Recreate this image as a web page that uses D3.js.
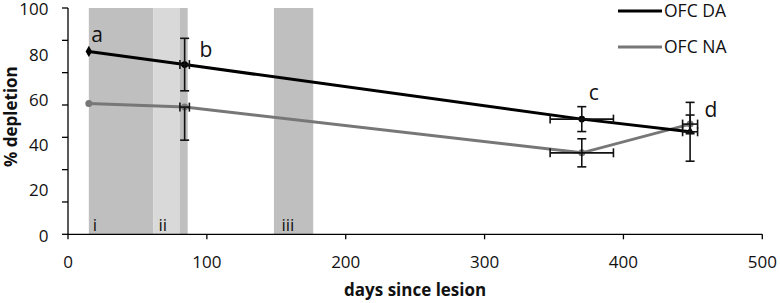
<!DOCTYPE html>
<html>
<head>
<meta charset="utf-8">
<script src="https://cdn.jsdelivr.net/npm/d3@7"></script>
<style>
  body { margin: 0; background: #fff; }
  svg { font-family: "Open Sans", sans-serif; }
  .tick-oznaka { font-size: 17px; fill: #111; }
  .naslov-osi { font-size: 17px; font-weight: bold; fill: #111; }
  .slovo { font-size: 21px; fill: #111; }
  .legenda { font-size: 17.5px; fill: #111; }
</style>
</head>
<body>
<div id="okvir"></div>
<script>
// podaci
const dani = [15, 84, 370, 448]
const daVrijednosti = [80.8, 75.0, 50.9, 45.3]
const naVrijednosti = [57.8, 56.2, 36.0, 48.7]
const daGreska = [0, 11.6, 5.5, 13.0]
const naGreskaDolje = [0, 14.6, 6.2, 4.0]
const naGreskaGore = [0, 0, 6.2, 4.0]
const daniGreska = [0, 3.4, 22.8, 5.4]
const daOblici = ["diamond", "circle", "circle", "triangle"]

const pojasOd = [15, 61.5, 80.6, 148.3]
const pojasDo = [61.5, 80.6, 86.2, 176.6]
const oznakePojasa = ["i", "ii", "iii"]
const daniOznaka = [19.4, 68.2, 158.3]

const slova = ["a", "b", "c", "d"]
const slovaDani = [21, 99.3, 378.7, 463]
const slovaVrijednosti = [85, 78.3, 59.3, 51.8]

const xOznake = [0, 100, 200, 300, 400, 500]
const yOznake = [0, 20, 40, 60, 80, 100]
const serije = ["OFC DA", "OFC NA"]

function crtaj() {
  const dimenzije = { sirina: 780, visina: 303 }

  const okvir = d3.select("#okvir")
    .append("svg")
      .attr("width", dimenzije.sirina)
      .attr("height", dimenzije.visina)

  const xScale = d3.scaleLinear().domain([0, 500]).range([68, 762.3])
  const yScale = d3.scaleLinear().domain([0, 100]).range([234.3, 8])

  const tamno = "#bfbfbf"
  const svijetlo = "#d9d9d9"
  const siva = "#777"

  // pojasevi
  okvir.append("g").selectAll("rect")
    .data(pojasOd)
    .join("rect")
      .attr("x", d => xScale(d))
      .attr("width", (d, i) => xScale(pojasDo[i]) - xScale(d))
      .attr("y", yScale(100))
      .attr("height", yScale(0) - yScale(100))
      .attr("fill", (d, i) => i === 1 ? svijetlo : tamno)

  okvir.append("g").selectAll("text")
    .data(oznakePojasa)
    .join("text")
      .attr("x", (d, i) => xScale(daniOznaka[i]))
      .attr("y", yScale(0) - 3)
      .attr("text-anchor", "middle")
      .attr("class", "tick-oznaka")
      .text(d => d)

  // osi
  const osi = okvir.append("g")
  osi.append("line")
    .attr("x1", xScale(0)).attr("x2", xScale(500))
    .attr("y1", yScale(0)).attr("y2", yScale(0))
    .attr("stroke", "#000").attr("stroke-width", 1.3)
  osi.append("line")
    .attr("x1", xScale(0)).attr("x2", xScale(0))
    .attr("y1", yScale(0)).attr("y2", yScale(100))
    .attr("stroke", "#000").attr("stroke-width", 1.3)

  osi.selectAll(".xt")
    .data(xOznake)
    .join("line")
      .attr("class", "xt")
      .attr("x1", d => xScale(d)).attr("x2", d => xScale(d))
      .attr("y1", yScale(0)).attr("y2", yScale(0) + 5)
      .attr("stroke", "#000").attr("stroke-width", 1.3)
  osi.selectAll(".xl")
    .data(xOznake)
    .join("text")
      .attr("class", "xl tick-oznaka")
      .attr("x", d => xScale(d))
      .attr("y", 268)
      .attr("text-anchor", "middle")
      .text(d => d)

  // crtice na y osi nisu poravnate s oznakama (kao u originalu)
  const yCrtice = d3.range(8).map(k => k * 100 / 7)
  osi.selectAll(".yt")
    .data(yCrtice)
    .join("line")
      .attr("class", "yt")
      .attr("x1", xScale(0) - 6).attr("x2", xScale(0))
      .attr("y1", d => yScale(d)).attr("y2", d => yScale(d))
      .attr("stroke", "#000").attr("stroke-width", 1.3)
  osi.selectAll(".yl")
    .data(yOznake)
    .join("text")
      .attr("class", "yl tick-oznaka")
      .attr("x", 48.5)
      .attr("y", d => yScale(d) + 1.5)
      .attr("dy", "0.35em")
      .attr("text-anchor", "end")
      .text(d => d)

  okvir.append("text")
    .attr("class", "naslov-osi")
    .attr("x", xScale(250))
    .attr("y", 296)
    .attr("text-anchor", "middle")
    .text("days since lesion")
  okvir.append("text")
    .attr("class", "naslov-osi")
    .attr("transform", `translate(17, ${yScale(52)}) rotate(-90)`)
    .attr("text-anchor", "middle")
    .text("% depletion")

  // linije
  const linija = vrijednosti => d3.line()
    .x((d, i) => xScale(dani[i]))
    .y((d, i) => yScale(vrijednosti[i]))(vrijednosti)

  okvir.append("path")
    .attr("d", linija(naVrijednosti))
    .attr("fill", "none").attr("stroke", siva).attr("stroke-width", 3)
  okvir.append("path")
    .attr("d", linija(daVrijednosti))
    .attr("fill", "none").attr("stroke", "#000").attr("stroke-width", 3)

  // markeri
  okvir.append("g").selectAll("circle")
    .data(naVrijednosti)
    .join("circle")
      .attr("cx", (d, i) => xScale(dani[i]))
      .attr("cy", d => yScale(d))
      .attr("r", 3.5)
      .attr("fill", siva)

  const simboli = { diamond: d3.symbolDiamond, circle: d3.symbolCircle, triangle: d3.symbolTriangle }
  okvir.append("g").selectAll("path")
    .data(daVrijednosti)
    .join("path")
      .attr("transform", (d, i) => `translate(${xScale(dani[i])}, ${yScale(d)})`)
      .attr("d", (d, i) => d3.symbol(simboli[daOblici[i]], 36)())
      .attr("fill", "#000")

  // greske
  const greske = okvir.append("g").attr("stroke", "#111").attr("stroke-width", 1.6)
  const kapa = 4.5
  const crtajGresku = (dan, vr, dolje, gore, dx) => {
    const cx = xScale(dan), cy = yScale(vr)
    if (dolje > 0 || gore > 0) {
      greske.append("line")
        .attr("x1", cx).attr("x2", cx)
        .attr("y1", yScale(vr - dolje)).attr("y2", yScale(vr + gore))
      if (dolje > 0) greske.append("line")
        .attr("x1", cx - kapa).attr("x2", cx + kapa)
        .attr("y1", yScale(vr - dolje)).attr("y2", yScale(vr - dolje))
      if (gore > 0) greske.append("line")
        .attr("x1", cx - kapa).attr("x2", cx + kapa)
        .attr("y1", yScale(vr + gore)).attr("y2", yScale(vr + gore))
    }
    if (dx > 0) {
      const x1 = xScale(dan - dx), x2 = xScale(dan + dx)
      greske.append("line")
        .attr("x1", x1).attr("x2", x2).attr("y1", cy).attr("y2", cy)
      ;[x1, x2].forEach(x => greske.append("line")
        .attr("x1", x).attr("x2", x).attr("y1", cy - kapa).attr("y2", cy + kapa))
    }
  }
  dani.forEach((dan, i) => {
    crtajGresku(dan, daVrijednosti[i], daGreska[i], daGreska[i], daniGreska[i])
    crtajGresku(dan, naVrijednosti[i], naGreskaDolje[i], naGreskaGore[i], daniGreska[i])
  })

  // slova
  okvir.append("g").selectAll("text")
    .data(slova)
    .join("text")
      .attr("class", "slovo")
      .attr("x", (d, i) => xScale(slovaDani[i]))
      .attr("y", (d, i) => yScale(slovaVrijednosti[i]))
      .attr("text-anchor", "middle")
      .text(d => d)

  // legenda
  const legenda = okvir.append("g")
  serije.forEach((s, i) => {
    const y = 11 + i * 36
    legenda.append("line")
      .attr("x1", 618).attr("x2", 662)
      .attr("y1", y).attr("y2", y)
      .attr("stroke", i === 0 ? "#000" : siva)
      .attr("stroke-width", 3)
    legenda.append("text")
      .attr("class", "legenda")
      .attr("x", 664)
      .attr("y", y)
      .attr("dy", "0.35em")
      .text(s)
  })
}
crtaj()
</script>
</body>
</html>
